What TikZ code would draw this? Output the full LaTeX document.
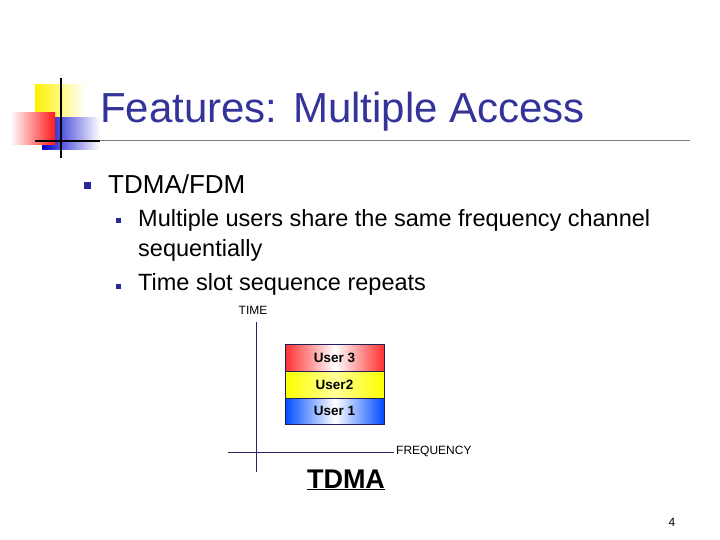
\documentclass[tikz,border=0pt]{standalone}
\usepackage{fontspec}
\setmainfont{Liberation Sans}
\begin{document}
\begin{tikzpicture}[x=1pt,y=-1pt,
  ttl/.style={text=ttlc,font=\fontsize{42}{46}\selectfont,anchor=west,inner sep=0},
  lvl1/.style={font=\fontsize{26}{30}\selectfont,anchor=west,inner sep=0},
  lvl2/.style={font=\fontsize{23.5}{30}\selectfont,anchor=west,inner sep=0,align=left},
  ulab/.style={font=\bfseries\fontsize{13.5}{15}\selectfont},
  axl/.style={font=\fontsize{12}{14}\selectfont,inner sep=0},
  ax/.style={draw=ttlc!70!black,line width=0.8pt}]
\definecolor{ttlc}{RGB}{51,51,153}
\definecolor{bul}{RGB}{40,40,150}
\useasboundingbox (0,0) rectangle (720,540);
\fill[white] (0,0) rectangle (720,540);
% logo
\shade[left color=yellow!90!orange, right color=white] (35,85) rectangle (85,118);
\shade[left color=blue!80!black, right color=white] (42,118) rectangle (100,150);
\shade[left color=white, right color=red!90] (10,113) rectangle (55,145);
\draw[line width=1.5pt] (61,78) -- (61,158);
\draw[line width=1.5pt] (35,141) -- (100,141);
\draw[gray,line width=1pt] (100,141) -- (690,141);
\node[ttl] (title) at (100,112) {Features: Multiple Access};
% bullets
\node[fill=bul,minimum size=7pt,inner sep=0] (b1) at (87,186) {};
\node[lvl1] (t1) at (108,184) {TDMA/FDM};
\node[fill=bul,minimum size=5pt,inner sep=0] (b2) at (118,221) {};
\node[lvl2] (t2) at (138,220) {Multiple users share the same frequency channel};
\node[lvl2] (t2b) at (138,250) {sequentially};
\node[fill=bul,minimum size=5pt,inner sep=0] (b3) at (118,286) {};
\node[lvl2] (t3) at (138,284) {Time slot sequence repeats};
% diagram
\draw[ax] (256,322) -- (256,472);
\draw[ax] (228,452) -- (394,452);
\node[axl] (time) at (253,310) {TIME};
\node[axl,anchor=west] (freq) at (396,451) {FREQUENCY};
\shade[left color=red!75!pink, right color=white] (285,344) rectangle (335,371);
\shade[left color=white, right color=red!75!pink] (335,344) rectangle (384,371);
\shade[left color=yellow, right color=yellow!40] (285,371) rectangle (335,398);
\shade[left color=yellow!40, right color=yellow] (335,371) rectangle (384,398);
\shade[left color=blue!70!cyan, right color=white] (285,398) rectangle (335,424);
\shade[left color=white, right color=blue!70!cyan] (335,398) rectangle (384,424);
\node[draw=ttlc!60!black,minimum width=99pt,minimum height=27pt,ulab] (u3) at (334.5,357.5) {User 3};
\node[draw=ttlc!60!black,minimum width=99pt,minimum height=27pt,ulab] (u2) at (334.5,384.5) {User2};
\node[draw=ttlc!60!black,minimum width=99pt,minimum height=26pt,ulab] (u1) at (334.5,411) {User 1};
\node[font=\bfseries\fontsize{27}{29}\selectfont,inner sep=0] (tdma) at (346,480) {\underline{TDMA}};
\node[font=\fontsize{12}{14}\selectfont] (pg) at (672,522) {4};
\end{tikzpicture}
\end{document}
